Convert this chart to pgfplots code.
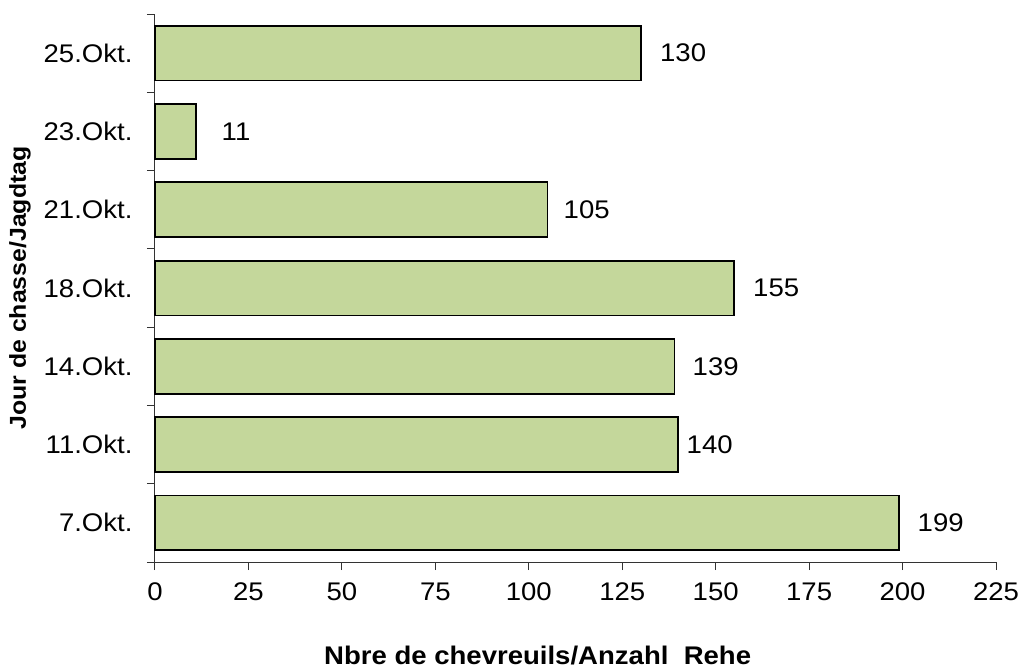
\documentclass[border=0pt]{standalone}
\usepackage{fontspec}
\setmainfont[FakeStretch=1.08]{Liberation Sans}
\usepackage{pgfplots}
\pgfplotsset{compat=1.18}
\usepackage{pgfplotstable}
\definecolor{barfill}{RGB}{196,215,155}
\pgfplotstableread{
y val
0 199
1 140
2 139
3 155
4 105
5 11
6 130
}\bars
\pgfplotstableread{
y lx lab
0 204.0 199
1 142.2 140
2 143.8 139
3 160.0 155
4 109.3 105
5 17.8 11
6 135.1 130
}\labs
\begin{document}
\begin{tikzpicture}
\begin{axis}[
  at={(0,0)}, anchor=south west,
  scale only axis, width=841pt, height=548pt,
  xmin=0, xmax=225, ymin=-0.5, ymax=6.5,
  axis x line*=bottom, axis y line*=left,
  axis line style={-, line width=1pt, black!80},
  font=\fontsize{25.5}{30}\selectfont,
  /pgf/number format/assume math mode=true,
  xtick={0,25,...,225},
  ytick={0,...,6},
  yticklabels={7.Okt.,11.Okt.,14.Okt.,18.Okt.,21.Okt.,23.Okt.,25.Okt.},
  minor ytick={-0.5,0.5,...,6.5},
  tick align=outside,
  major tick length=8pt, minor tick length=8pt,
  every x tick/.style={line width=1pt, black!80},
  every major y tick/.style={draw=none},
  every minor y tick/.style={line width=1pt, black!80},
  yticklabel style={xshift=-11pt},
  xticklabel style={yshift=-9pt},
  xlabel={\bfseries Nbre de chevreuils/Anzahl\ \ Rehe},
  ylabel={\bfseries Jour de chasse/Jagdtag},
  xlabel style={at={(axis description cs:0.455,-0.17)}, anchor=center, font=\fontsize{25.5}{30}\selectfont},
  ylabel style={at={(axis description cs:-0.1605,0.5)}, anchor=center, font=\fontsize{23}{28}\selectfont},
  clip=false,
]
\addplot[xbar, bar width=0.7, fill=barfill, draw=black, line width=1.8pt] table[x=val, y=y] {\bars};
\addplot[draw=none, no marks, nodes near coords, point meta=explicit symbolic,
  nodes near coords style={anchor=west, inner sep=0pt, font=\fontsize{25.5}{30}\selectfont}]
  table[x=lx, y=y, meta=lab] {\labs};
\end{axis}
\pgfresetboundingbox
\path (-155pt,-108pt) rectangle (868pt,562pt);
\end{tikzpicture}
\end{document}
